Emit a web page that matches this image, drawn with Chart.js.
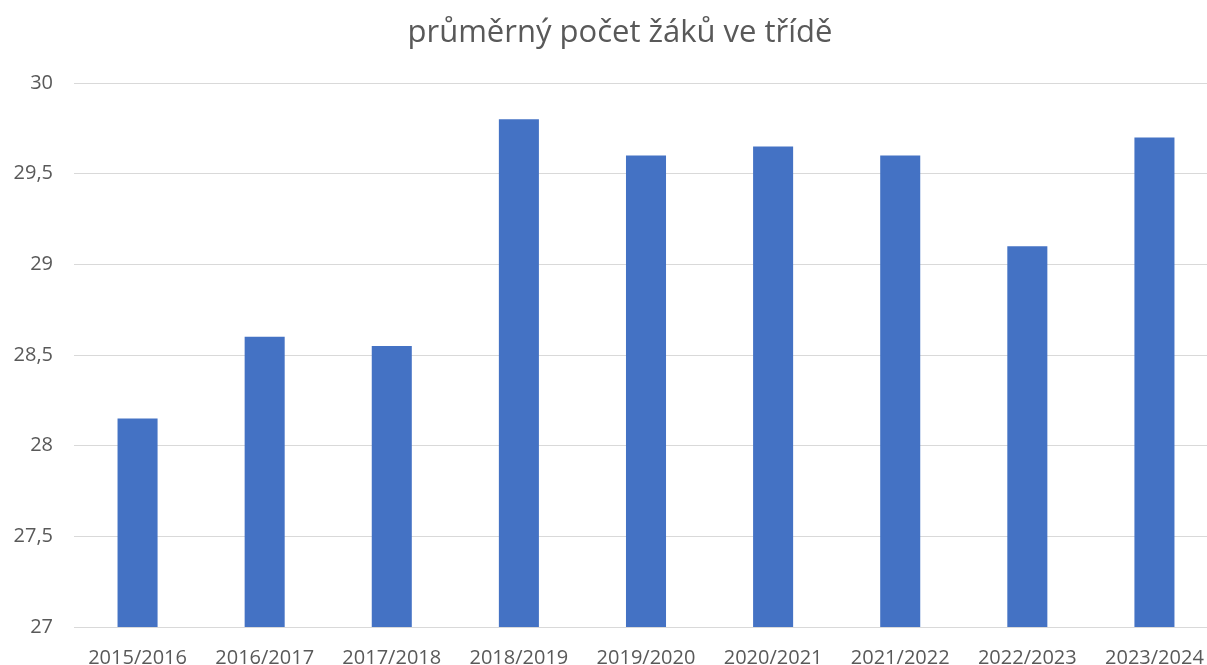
<!DOCTYPE html>
<html>
<head>
<meta charset="utf-8">
<script src="https://cdn.jsdelivr.net/npm/chart.js@4/dist/chart.umd.min.js"></script>
<style>
  html, body { margin: 0; padding: 0; background: #fff; overflow: hidden; }
  #wrap { width: 1240px; height: 665px; position: relative; }
</style>
</head>
<body>
<div id="wrap"><canvas id="prumerChart"></canvas></div>
<script>
const skolniRoky = ['2015/2016', '2016/2017', '2017/2018', '2018/2019', '2019/2020',
                    '2020/2021', '2021/2022', '2022/2023', '2023/2024'];
const prumerZaku = [28.15, 28.6, 28.55, 29.8, 29.6, 29.65, 29.6, 29.1, 29.7];
const osaMin = 27, osaMax = 30, osaKrok = 0.5;

const seda = '#595959';

// y labels are clipped to the scale box, so stretch it back to the canvas edge
const levyOkraj = {
    id: 'levyOkraj',
    afterLayout(chart) { chart.scales.y.left = 0; }
};

const ctx = document.getElementById('prumerChart').getContext('2d');
const prumerChart = new Chart(ctx, {
    type: 'bar',
    data: {
        labels: skolniRoky,
        datasets: [{
            label: 'průměrný počet žáků ve třídě',
            data: prumerZaku,
            backgroundColor: '#4472C4',
            borderWidth: 0,
            barPercentage: 0.315,
            categoryPercentage: 1
        }]
    },
    plugins: [levyOkraj],
    options: {
        responsive: true,
        maintainAspectRatio: false,
        animation: false,
        layout: { padding: { left: 22, right: 22, top: 0, bottom: 0 } },
        plugins: {
            legend: { display: false },
            tooltip: { enabled: false },
            title: {
                display: true,
                text: 'průměrný počet žáků ve třídě',
                color: seda,
                font: { family: 'Open Sans', size: 31, weight: 'normal' },
                padding: { top: 15, bottom: 30.8 }
            }
        },
        scales: {
            x: {
                grid: { display: false },
                border: { display: false },
                ticks: {
                    color: seda,
                    font: { family: 'Open Sans', size: 20 },
                    maxRotation: 0,
                    autoSkip: false,
                    padding: 11
                },
                afterFit: (scale) => { scale.height = 38; }
            },
            y: {
                min: osaMin,
                max: osaMax,
                grid: { color: '#d9d9d9', lineWidth: 1, drawTicks: false },
                border: { display: false },
                ticks: {
                    stepSize: osaKrok,
                    color: seda,
                    font: { family: 'Open Sans', size: 20 },
                    padding: 21,
                    callback: (v) => String(v).replace('.', ',')
                },
                afterFit: (scale) => { scale.width = 52; }
            }
        }
    }
});
</script>
</body>
</html>
